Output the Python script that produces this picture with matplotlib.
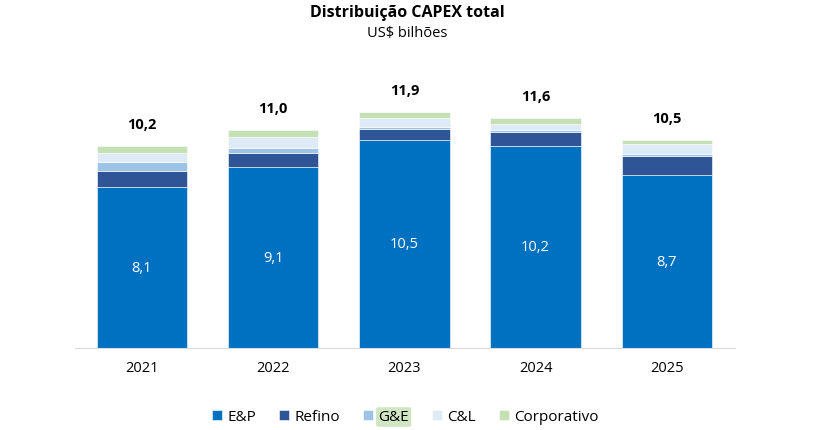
import matplotlib.pyplot as plt
import numpy as np

plt.rcParams['font.family'] = ['Open Sans', 'DejaVu Sans']

years = ['2021', '2022', '2023', '2024', '2025']
ep = [8.1, 9.1, 10.5, 10.2, 8.7]
refino = [0.8, 0.7, 0.55, 0.67, 0.96]
ge = [0.48, 0.28, 0.09, 0.1, 0.1]
cl = [0.42, 0.54, 0.45, 0.32, 0.54]
corp = [0.38, 0.38, 0.3, 0.32, 0.2]
ep_labels = ['8,1', '9,1', '10,5', '10,2', '8,7']
total_labels = ['10,2', '11,0', '11,9', '11,6', '10,5']

series = [
    ('E&P', ep, '#0070C0'),
    ('Refino', refino, '#2F5597'),
    ('G&E', ge, '#9DC3E6'),
    ('C&L', cl, '#DEEBF7'),
    ('Corporativo', corp, '#C5E0B4'),
]

fig = plt.figure(figsize=(8.14, 4.31), dpi=100)
ax = fig.add_axes([75 / 814, 1 - 349 / 431, 660 / 814, 289 / 431])

x = np.arange(len(years))
bottom = np.zeros(len(years))
handles = []
for name, vals, color in series:
    b = ax.bar(x, vals, 0.69, bottom=bottom, color=color, label=name,
               edgecolor='white', linewidth=0.4)
    handles.append(b)
    bottom += np.array(vals)

for i in range(len(years)):
    ax.text(x[i], ep[i] / 2, ep_labels[i], ha='center', va='center',
            color='white', fontsize=10.5)
    ax.text(x[i], bottom[i] + 0.75, total_labels[i], ha='center', va='bottom',
            color='black', fontsize=10.5, fontweight='bold')

ax.set_xlim(-0.51, 4.52)
ax.set_ylim(0, 14.56)
ax.set_xticks(x)
ax.set_xticklabels(years, fontsize=10.5)
ax.tick_params(axis='x', length=0, pad=9)
ax.set_yticks([])
for s in ['top', 'right', 'left']:
    ax.spines[s].set_visible(False)
ax.spines['bottom'].set_color('#d9d9d9')

fig.text(0.5, 1 - 13 / 431, 'Distribuição CAPEX total', ha='center', va='center',
         fontsize=11.5, fontweight='bold')
fig.text(0.5, 1 - 33 / 431, 'US$ bilhões', ha='center', va='center', fontsize=10.5)

leg = fig.legend(handles=handles, loc='center', bbox_to_anchor=(0.498, 1 - 418 / 431),
                 ncol=5, frameon=False, fontsize=11, handlelength=0.65,
                 handleheight=0.65, handletextpad=0.35, columnspacing=1.5)
leg.get_texts()[2].set_bbox(dict(facecolor='#C5E0B4', edgecolor='none',
                                 boxstyle='round,pad=0.15', alpha=0.8))

fig.savefig('out.png', dpi=100)
